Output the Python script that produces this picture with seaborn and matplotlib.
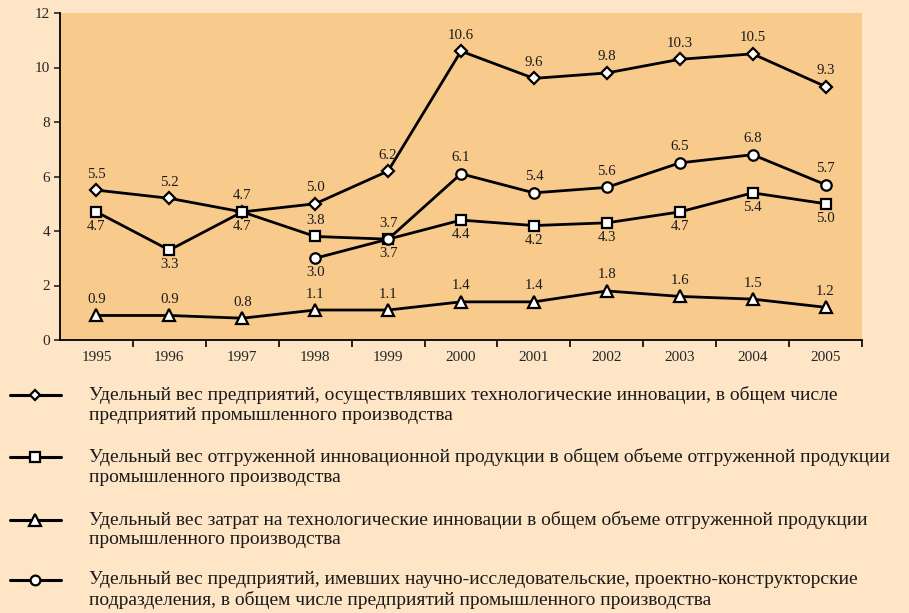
import matplotlib
matplotlib.use("Agg")
import matplotlib.pyplot as plt
from matplotlib.lines import Line2D
import seaborn as sns
import pandas as pd

years = [1995, 1996, 1997, 1998, 1999, 2000, 2001, 2002, 2003, 2004, 2005]
innov_share = [5.5, 5.2, 4.7, 5.0, 6.2, 10.6, 9.6, 9.8, 10.3, 10.5, 9.3]
product_share = [4.7, 3.3, 4.7, 3.8, 3.7, 4.4, 4.2, 4.3, 4.7, 5.4, 5.0]
cost_share = [0.9, 0.9, 0.8, 1.1, 1.1, 1.4, 1.4, 1.8, 1.6, 1.5, 1.2]
rnd_years = [1998, 1999, 2000, 2001, 2002, 2003, 2004, 2005]
rnd_share = [3.0, 3.7, 6.1, 5.4, 5.6, 6.5, 6.8, 5.7]

legend_texts = [
    ["Удельный вес предприятий, осуществлявших технологические инновации, в общем числе",
     "предприятий промышленного производства"],
    ["Удельный вес отгруженной инновационной продукции в общем объеме отгруженной продукции",
     "промышленного производства"],
    ["Удельный вес затрат на технологические инновации в общем объеме отгруженной продукции",
     "промышленного производства"],
    ["Удельный вес предприятий, имевших научно-исследовательские, проектно-конструкторские",
     "подразделения, в общем числе предприятий промышленного производства"],
]

sns.set_style("ticks")
plt.rcParams['font.family'] = ['Liberation Serif', 'DejaVu Serif']

W, H = 909, 613
fig = plt.figure(figsize=(W / 100, H / 100), dpi=100)
fig.patch.set_facecolor('#FDE5C5')
ax = fig.add_axes([60 / W, 1 - 340 / H, (862 - 60) / W, (340 - 13) / H])
ax.set_facecolor('#F8CB8C')

series = [
    (years, innov_share, 'D', 6.5, 'above'),
    (years, product_share, 's', 7.5, ['below', 'below', 'below', 'above', 'above', 'below', 'below', 'below', 'below', 'below', 'below']),
    (years, cost_share, '^', 8.5, 'above'),
    (rnd_years, rnd_share, 'o', 7.5, ['below', 'below', 'above', 'above', 'above', 'above', 'above', 'above']),
]

for xs, ys, mk, ms, pos in series:
    df = pd.DataFrame({'year': xs, 'value': ys})
    sns.lineplot(data=df, x='year', y='value', ax=ax, color='black', linewidth=2.0,
                 marker=mk, markersize=ms, markerfacecolor='white',
                 markeredgecolor='black', markeredgewidth=1.6, zorder=3)
    for i, (x, y) in enumerate(zip(xs, ys)):
        p = pos if isinstance(pos, str) else pos[i]
        off = 11.5 if p == 'above' else -10.5
        ax.annotate(f"{y:.1f}", (x, y), xytext=(0, off), textcoords='offset points',
                    ha='center', va='center', fontsize=10.7, color='#1a1a1a', zorder=4)

ax.set_xlim(1994.5, 2005.5)
ax.set_ylim(0, 12)
ax.set_xticks(years)
ax.set_xticklabels([str(y) for y in years], fontsize=11)
ax.set_xticks([y + 0.5 for y in years], minor=True)
ax.tick_params(axis='x', which='major', length=0, pad=8)
ax.tick_params(axis='x', which='minor', length=5, width=1.2, direction='out', color='black')
ax.set_yticks(range(0, 13, 2))
ax.set_yticklabels([str(v) for v in range(0, 13, 2)], fontsize=11)
ax.tick_params(axis='y', length=4, width=1.2, direction='out', pad=3)
ax.set_xlabel('')
ax.set_ylabel('')
for s in ['top', 'right']:
    ax.spines[s].set_visible(False)
for s in ['left', 'bottom']:
    ax.spines[s].set_linewidth(1.3)
    ax.spines[s].set_color('black')

# legend drawn below the chart
markers = ['D', 's', '^', 'o']
msizes = [5.5, 7, 8, 7]
row_y = [395, 457, 520, 580]
for mk, ms, ry, lines in zip(markers, msizes, row_y, legend_texts):
    yf = 1 - ry / H
    fig.add_artist(Line2D([10 / W, 61 / W], [yf, yf], color='black', linewidth=2.2,
                          transform=fig.transFigure))
    fig.add_artist(Line2D([35 / W], [yf], color='black', marker=mk, markersize=ms,
                          markerfacecolor='white', markeredgecolor='black',
                          markeredgewidth=1.6, transform=fig.transFigure))
    for k, line in enumerate(lines):
        fig.text(89 / W, 1 - (ry + k * 20) / H, line, fontsize=14, va='center',
                 ha='left', color='#1a1a1a')

fig.savefig('out.png', dpi=100, facecolor=fig.get_facecolor())
